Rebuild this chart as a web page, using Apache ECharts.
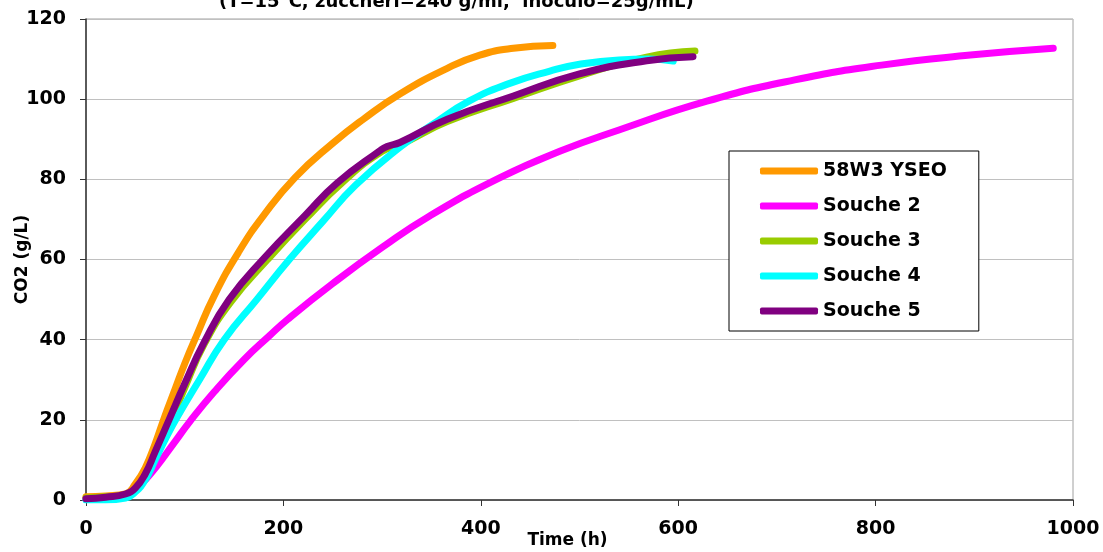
<!DOCTYPE html>
<html>
<head>
<meta charset="utf-8">
<script src="https://cdn.jsdelivr.net/npm/echarts@6/dist/echarts.min.js"></script>
<style>
  html, body { margin: 0; padding: 0; background: #fff; }
  #main { width: 1103px; height: 552px; }
</style>
</head>
<body>
<div id="main"></div>
<script>
// valeurs : [temps (h), CO2 (g/L)]
var seriesNames = ['58W3 YSEO', 'Souche 2', 'Souche 3', 'Souche 4', 'Souche 5'];
var seriesColors = ['#FF9900', '#FF00FF', '#99CC00', '#00FFFF', '#800080'];

var yseo = [[0,0.8],[20,1],[40,1.5],[50,4],[60,8],[70,14],[80,21],[90,27.5],[100,34],[112,41],[130,51],[155,62],
  [180,71],[212,80.5],[250,89],[281,95],[318,101.3],[366,107.7],[399,111],[433,112.7],[473,113.4]];

var souche2 = [[0,0.3],[20,0.5],[40,1],[50,2.5],[60,5],[72,8.5],[90,14.5],[105,19.5],[130,27],[160,35],[186,41],[204,45],
  [250,54],[300,63],[349,71],[420,80.5],[480,87],[540,92.3],[629,99.5],[718,104.8],[806,108.5],[896,111],[980,112.7]];

var souche3 = [[0,0.5],[20,0.8],[40,1.2],[50,2.5],[60,6],[70,11],[85,19],[100,28],[120,39],[147,49.5],[184,60],[222,70],
  [261,79.5],[300,87],[318,88.6],[366,94.4],[433,100.2],[500,105.8],[568,110.5],[617,112]];

var souche4 = [[0,0],[20,0],[40,0.5],[50,2],[60,5],[70,10],[80,15],[92,20.5],[115,30],[140,40],[173,50],[206,60],[240,69.5],
  [273,78.5],[318,88],[350,93.5],[388,99.5],[430,104],[470,107],[500,108.7],[540,109.8],[570,110],[595,109.5]];

var souche5 = [[0,0.3],[20,0.7],[40,1.5],[50,3],[60,6.5],[70,12],[85,20.5],[100,29],[119,39],[145,50],[181,60.5],[222,71],
  [254,79],[298,87.2],[305,88.2],[318,89.2],[366,95],[433,100.8],[500,106.3],[568,109.6],[615,110.6]];

var allData = [yseo, souche2, souche3, souche4, souche5];

var xTicks = { min: 0, max: 1000, interval: 200 };
var yTicks = { min: 0, max: 120, interval: 20 };

var chart = echarts.init(document.getElementById('main'));

var seriesList = [];
for (var i = 0; i < allData.length; i++) {
  seriesList.push({
    name: seriesNames[i],
    type: 'line',
    data: allData[i],
    smooth: 0.5,
    showSymbol: false,
    symbol: 'none',
    lineStyle: { width: 7, color: seriesColors[i], cap: 'round', join: 'round' },
    itemStyle: { color: seriesColors[i] }
  });
}

var fontName = 'DejaVu Sans, sans-serif';
var labelFont = { color: '#000', fontSize: 19, fontWeight: 'bold', fontFamily: fontName };

var option = {
  animation: false,
  backgroundColor: '#fff',
  title: {
    text: '(T=15°C, zuccheri=240 g/ml,  inoculo=25g/mL)',
    left: 214,
    top: -12,
    textStyle: { color: '#000', fontSize: 18, fontWeight: 'bold', fontFamily: fontName }
  },
  legend: {
    orient: 'vertical',
    left: 729,
    top: 151,
    data: seriesNames,
    backgroundColor: '#fff',
    borderColor: '#000',
    borderWidth: 1,
    padding: [10, 32, 10, 31],
    itemWidth: 58,
    itemHeight: 7,
    itemGap: 15,
    icon: 'roundRect',
    textStyle: { color: '#000', fontSize: 19, fontWeight: 'bold', fontFamily: fontName, lineHeight: 20 }
  },
  grid: {
    left: 86, right: 30, top: 19, bottom: 52,
    outerBoundsMode: 'none',
    containLabel: false,
    show: true, borderColor: '#a0a0a0', borderWidth: 1
  },
  xAxis: {
    type: 'value',
    min: xTicks.min, max: xTicks.max, interval: xTicks.interval,
    name: 'Time (h)',
    nameLocation: 'middle',
    nameGap: 32,
    nameMoveOverlap: false,
    nameTextStyle: { color: '#000', fontSize: 17, fontWeight: 'bold', fontFamily: fontName, padding: [0, 24, 0, 0] },
    axisLine: { show: true, lineStyle: { color: '#333', width: 1.5 } },
    axisTick: { show: true, inside: false, length: 6, lineStyle: { color: '#333' } },
    axisLabel: Object.assign({ margin: 20, formatter: function (v) { return String(v); } }, labelFont),
    splitLine: { show: false }
  },
  yAxis: {
    type: 'value',
    min: yTicks.min, max: yTicks.max, interval: yTicks.interval,
    name: 'CO2 (g/L)',
    nameLocation: 'middle',
    nameGap: 55,
    nameMoveOverlap: false,
    nameRotate: 90,
    nameTextStyle: { color: '#000', fontSize: 17, fontWeight: 'bold', fontFamily: fontName },
    axisLine: { show: true, lineStyle: { color: '#333', width: 1.5 } },
    axisTick: { show: true, inside: false, length: 6, lineStyle: { color: '#333' } },
    axisLabel: Object.assign({ margin: 20 }, labelFont),
    splitLine: { show: true, lineStyle: { color: '#c0c0c0', width: 1 } }
  },
  series: seriesList
};

chart.setOption(option);
</script>
</body>
</html>
